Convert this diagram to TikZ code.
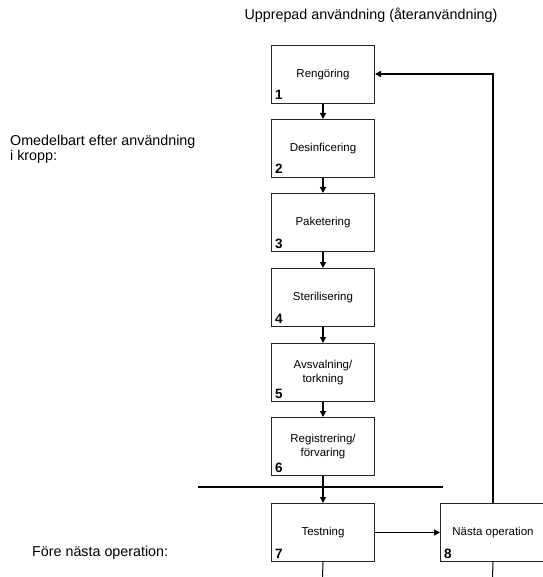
\documentclass[tikz,border=0pt]{standalone}
\usepackage{fontspec}
\setmainfont{Liberation Sans}
\usetikzlibrary{arrows.meta}
\begin{document}
\begin{tikzpicture}[x=1pt,y=-1pt,
  stepbox/.style={draw=black!85,line width=1pt,minimum width=103pt,minimum height=58pt,
    inner sep=0pt,font=\fontsize{11.5}{14}\selectfont,align=center,anchor=north west},
  num/.style={font=\bfseries\fontsize{13.5}{14}\selectfont,anchor=base west,inner sep=0pt},
  flow/.style={line width=1.4pt,-{Triangle[length=6pt,width=6pt]}},
  rule/.style={line width=1.6pt},
  note/.style={font=\fontsize{14.3}{15}\selectfont,inner sep=0pt,align=left}]
\useasboundingbox (0,0) rectangle (542,577);

% column of process steps
\node[stepbox] (b1) at (271,45)  {Rengöring};
\node[stepbox] (b2) at (271,119) {Desinficering};
\node[stepbox] (b3) at (271,193) {Paketering};
\node[stepbox] (b4) at (271,268) {Sterilisering};
\node[stepbox] (b5) at (271,343) {Avsvalning/\\torkning};
\node[stepbox] (b6) at (271,417) {Registrering/\\förvaring};
\node[stepbox] (b7) at (271,503) {Testning};
\node[stepbox,minimum width=105pt] (b8) at (440,503) {Nästa operation};

% step numbers
\foreach \i in {1,...,8}
  \node[num] (n\i) at ([xshift=4pt,yshift=4pt]b\i.south west) {\i};

% arrows between steps
\foreach \a/\b in {b1/b2,b2/b3,b3/b4,b4/b5,b5/b6,b6/b7}
  \draw[flow] (\a.south) -- (\b.north);
\draw[flow] (b7.east) -- (b8.west);

% return path for repeated use
\coordinate (up) at (492,74);
\draw[flow] (b8.north) -- (b8.north |- up) -- (b1.east |- up);

% separator line and continuing lines
\coordinate (hl) at (198,487);
\coordinate (hr) at (443,487);
\draw[rule] (hl) -- (hr);
\coordinate (d7) at (322.5,577);
\coordinate (d8) at (492.5,577);
\draw[line width=1pt] (b7.south) -- (d7);
\draw[line width=1pt] (b8.south) -- (d8);

% side notes (base anchor sits on the last line)
\node[note,anchor=base] (t1) at (371,20) {Upprepad användning (återanvändning)};
\node[note,anchor=base west] (t2) at (10,161) {Omedelbart efter användning\\i kropp:};
\node[note,anchor=base west] (t3) at (32,556) {Före nästa operation:};
\end{tikzpicture}
\end{document}
